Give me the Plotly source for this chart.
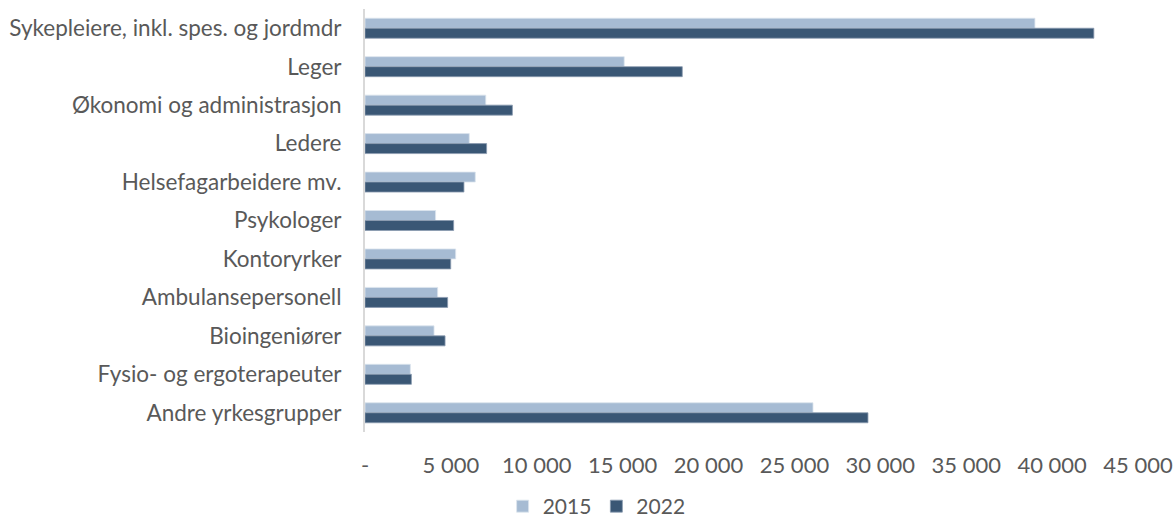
import plotly.graph_objects as go

categories = ["Sykepleiere, inkl. spes. og jordmdr", "Leger", "Økonomi og administrasjon", "Ledere",
              "Helsefagarbeidere mv.", "Psykologer", "Kontoryrker", "Ambulansepersonell",
              "Bioingeniører", "Fysio- og ergoterapeuter", "Andre yrkesgrupper"]
v2015 = [39000, 15090, 7030, 6070, 6420, 4110, 5280, 4230, 4020, 2640, 26080]
v2022 = [42430, 18470, 8580, 7080, 5760, 5160, 4990, 4810, 4660, 2700, 29280]
tick_vals = [0, 5000, 10000, 15000, 20000, 25000, 30000, 35000, 40000, 45000]
tick_text = ["-", "5 000", "10 000", "15 000", "20 000", "25 000", "30 000", "35 000", "40 000", "45 000"]

FONT = "Lato"
TXT = "#595959"

fig = go.Figure()
fig.add_trace(go.Bar(y=categories, x=v2015, orientation="h", name="2015",
                     marker=dict(color="#A6BBD3", line=dict(color="#DCE4EE", width=0.8))))
fig.add_trace(go.Bar(y=categories, x=v2022, orientation="h", name="2022",
                     marker=dict(color="#3A5775", line=dict(color="#8A9BB0", width=0.8))))

fig.update_layout(
    width=1173, height=527,
    margin=dict(l=365, r=35, t=9, b=95, autoexpand=False),
    paper_bgcolor="white", plot_bgcolor="white",
    barmode="group", bargap=0.48, bargroupgap=0,
    font=dict(family=FONT, size=22, color=TXT),
    showlegend=True,
    legend=dict(orientation="h", xref="container", x=0.4285, xanchor="left",
                yref="container", y=-0.02, yanchor="bottom", borderwidth=0,
                font=dict(family=FONT, size=21, color=TXT), traceorder="normal",
                itemwidth=30, tracegroupgap=0),
    xaxis=dict(range=[0, 45000], tickvals=tick_vals, ticktext=tick_text, showgrid=False,
               zeroline=False, showline=False, ticks="", ticklabelstandoff=18,
               tickfont=dict(family=FONT, size=22, color=TXT), fixedrange=True, automargin=False),
    yaxis=dict(autorange="reversed", showgrid=False, zeroline=False, showline=True,
               linecolor="#D9D9D9", linewidth=2, ticks="", ticklabelstandoff=17,
               tickfont=dict(family=FONT, size=22.5, color=TXT), automargin=False),
)

fig.write_html("out.html")
